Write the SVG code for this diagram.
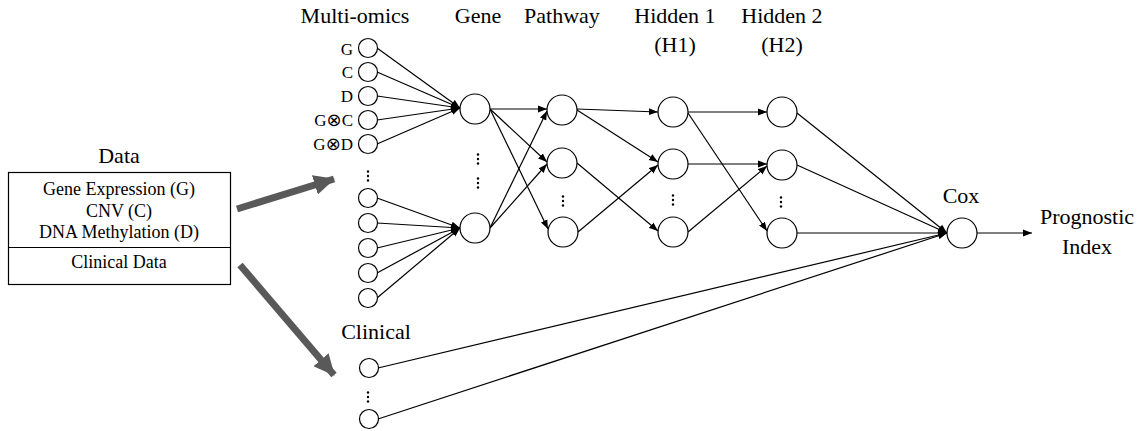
<svg xmlns="http://www.w3.org/2000/svg" width="1144" height="431" viewBox="0 0 1144 431">
  <style>
    text { font-family: 'Liberation Serif', 'Times New Roman', serif; fill: #000; }
    .hdr { font-size: 22px; text-anchor: middle; }
    .box { font-size: 18px; text-anchor: middle; }
    .lbl { font-size: 17px; text-anchor: end; }
    .otimes { font-family: 'DejaVu Sans', sans-serif; font-size: 18px; }
    .node { fill: #fff; stroke: #000; stroke-width: 1.2; }
    .dot { fill: #000; }
    .edge { stroke: #000; stroke-width: 1.2; fill: none; marker-end: url(#ah); }
    .big { stroke: #595959; stroke-width: 7; fill: none; marker-end: url(#bigah); }
  </style>
  <defs>
    <marker id="ah" markerUnits="userSpaceOnUse" markerWidth="10" markerHeight="8" refX="9" refY="4" orient="auto">
      <path d="M0,0.5 L9,4 L0,7.5 Z" fill="#000"/>
    </marker>
    <marker id="bigah" markerUnits="userSpaceOnUse" markerWidth="22" markerHeight="20" refX="20" refY="10" orient="auto">
      <path d="M0,0 L21,10 L0,20 Z" fill="#595959"/>
    </marker>
    <!-- vertical ellipsis: three small dots centred on the origin -->
    <g id="vdots">
      <circle class="dot" cx="0" cy="-4.5" r="1.2"/>
      <circle class="dot" cx="0" cy="0" r="1.2"/>
      <circle class="dot" cx="0" cy="4.5" r="1.2"/>
    </g>
  </defs>

  <!-- data source table -->
  <g id="data">
    <text class="hdr" x="119" y="163">Data</text>
    <rect x="8.5" y="172.5" width="222" height="112" fill="#fff" stroke="#000" stroke-width="1.2"/>
    <line x1="8.5" y1="247.5" x2="230.5" y2="247.5" stroke="#000" stroke-width="1.2"/>
    <text class="box" x="119" y="195">Gene Expression (G)</text>
    <text class="box" x="119" y="217">CNV (C)</text>
    <text class="box" x="119" y="238">DNA Methylation (D)</text>
    <text class="box" x="119" y="268">Clinical Data</text>
  </g>

  <!-- column headers -->
  <g id="headers">
    <text class="hdr" x="355" y="23">Multi-omics</text>
    <text class="hdr" x="478" y="23">Gene</text>
    <text class="hdr" x="562" y="23">Pathway</text>
    <text class="hdr" x="675" y="23">Hidden 1</text>
    <text class="hdr" x="675" y="52">(H1)</text>
    <text class="hdr" x="782" y="23">Hidden 2</text>
    <text class="hdr" x="782" y="52">(H2)</text>
    <text class="hdr" x="376" y="339">Clinical</text>
  </g>

  <!-- connectors -->
  <g id="connectors">
    <line class="big" x1="237" y1="209" x2="334" y2="179"/>
    <line class="big" x1="240" y1="265" x2="334" y2="375"/>

    <!-- multi-omics to gene -->
    <line class="edge" x1="377" y1="48" x2="460" y2="108"/>
    <line class="edge" x1="377" y1="72" x2="460" y2="108"/>
    <line class="edge" x1="377" y1="96" x2="460" y2="108"/>
    <line class="edge" x1="377" y1="120" x2="460" y2="108"/>
    <line class="edge" x1="377" y1="144" x2="460" y2="108"/>
    <line class="edge" x1="377" y1="198" x2="460" y2="228"/>
    <line class="edge" x1="377" y1="223" x2="460" y2="228"/>
    <line class="edge" x1="377" y1="248" x2="460" y2="228"/>
    <line class="edge" x1="377" y1="273" x2="460" y2="228"/>
    <line class="edge" x1="377" y1="298" x2="460" y2="228"/>

    <!-- gene to pathway -->
    <line class="edge" x1="490" y1="109" x2="547" y2="109"/>
    <line class="edge" x1="490" y1="109" x2="547" y2="162"/>
    <line class="edge" x1="490" y1="109" x2="548" y2="229"/>
    <line class="edge" x1="490" y1="228" x2="547" y2="111"/>
    <line class="edge" x1="490" y1="228" x2="547" y2="164"/>

    <!-- pathway to hidden 1 -->
    <line class="edge" x1="577" y1="109" x2="658" y2="112"/>
    <line class="edge" x1="577" y1="110" x2="658" y2="162"/>
    <line class="edge" x1="577" y1="163" x2="658" y2="231"/>
    <line class="edge" x1="578" y1="232" x2="658" y2="165"/>

    <!-- hidden 1 to hidden 2 -->
    <line class="edge" x1="688" y1="112" x2="767" y2="112"/>
    <line class="edge" x1="688" y1="113" x2="767" y2="231"/>
    <line class="edge" x1="688" y1="164" x2="767" y2="164"/>
    <line class="edge" x1="688" y1="232" x2="767" y2="166"/>

    <!-- into cox -->
    <line class="edge" x1="797" y1="113" x2="947" y2="233"/>
    <line class="edge" x1="797" y1="165" x2="947" y2="233"/>
    <line class="edge" x1="797" y1="233" x2="947" y2="233"/>
    <line class="edge" x1="378" y1="368" x2="947" y2="233"/>
    <line class="edge" x1="378" y1="419" x2="947" y2="233"/>

    <!-- cox to prognostic index -->
    <line class="edge" x1="977" y1="233" x2="1032" y2="233"/>
  </g>

  <!-- multi-omics inputs -->
  <g id="omics-inputs">
    <circle class="node" cx="368" cy="48" r="9.5"/>
    <circle class="node" cx="368" cy="72" r="9.5"/>
    <circle class="node" cx="368" cy="96" r="9.5"/>
    <circle class="node" cx="368" cy="120" r="9.5"/>
    <circle class="node" cx="368" cy="144" r="9.5"/>
    <text class="lbl" x="353" y="55">G</text>
    <text class="lbl" x="353" y="78">C</text>
    <text class="lbl" x="353" y="102">D</text>
    <text class="lbl" x="353" y="126">G<tspan class="otimes">⊗</tspan>C</text>
    <text class="lbl" x="353" y="150">G<tspan class="otimes">⊗</tspan>D</text>
    <use href="#vdots" x="368" y="176"/>
    <circle class="node" cx="368" cy="198" r="9.5"/>
    <circle class="node" cx="368" cy="223" r="9.5"/>
    <circle class="node" cx="368" cy="248" r="9.5"/>
    <circle class="node" cx="368" cy="273" r="9.5"/>
    <circle class="node" cx="368" cy="298" r="9.5"/>
  </g>

  <!-- gene layer -->
  <g id="gene">
    <circle class="node" cx="475" cy="109" r="15"/>
    <use href="#vdots" x="478" y="159"/>
    <use href="#vdots" x="478" y="183"/>
    <circle class="node" cx="475" cy="228" r="15"/>
  </g>

  <!-- pathway layer -->
  <g id="pathway">
    <circle class="node" cx="562" cy="110" r="15"/>
    <circle class="node" cx="562" cy="163" r="15"/>
    <use href="#vdots" x="563" y="201"/>
    <circle class="node" cx="563" cy="232" r="15"/>
  </g>

  <!-- hidden layer 1 -->
  <g id="hidden1">
    <circle class="node" cx="673" cy="112" r="15"/>
    <circle class="node" cx="673" cy="164" r="15"/>
    <use href="#vdots" x="673" y="200"/>
    <circle class="node" cx="673" cy="232" r="15"/>
  </g>

  <!-- hidden layer 2 -->
  <g id="hidden2">
    <circle class="node" cx="782" cy="112" r="15"/>
    <circle class="node" cx="782" cy="165" r="15"/>
    <use href="#vdots" x="781" y="202"/>
    <circle class="node" cx="782" cy="233" r="15"/>
  </g>

  <!-- clinical inputs -->
  <g id="clinical">
    <circle class="node" cx="369" cy="368" r="9.5"/>
    <use href="#vdots" x="368" y="397"/>
    <circle class="node" cx="369" cy="419" r="9.5"/>
  </g>

  <!-- cox output -->
  <g id="cox">
    <text class="hdr" x="961" y="203">Cox</text>
    <circle class="node" cx="962" cy="233" r="15"/>
  </g>

  <g id="prognostic-index">
    <text class="hdr" x="1087" y="224">Prognostic</text>
    <text class="hdr" x="1087" y="254">Index</text>
  </g>
</svg>
